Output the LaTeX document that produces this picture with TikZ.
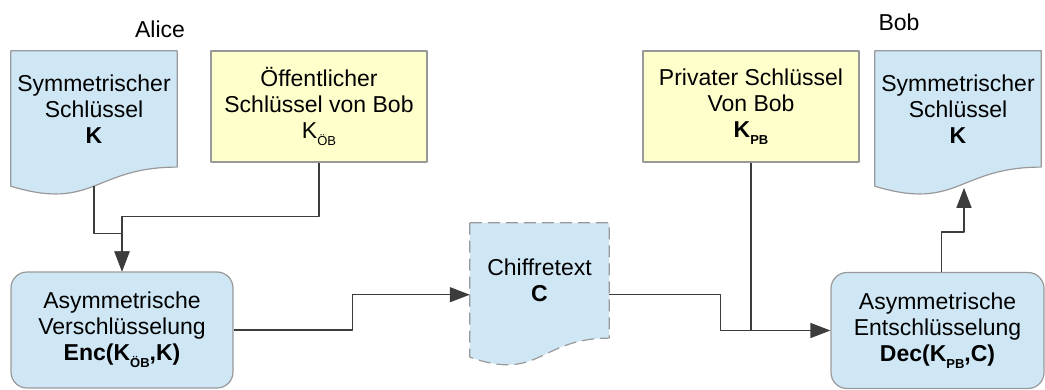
\documentclass[tikz,border=0pt]{standalone}
\usepackage{fontspec}
\setmainfont{Liberation Sans}
\usetikzlibrary{positioning,calc,arrows.meta}
\definecolor{docblue}{HTML}{CFE7F5}
\definecolor{keyyellow}{HTML}{FFFFCC}
\definecolor{rahmen}{HTML}{999999}
\definecolor{linie}{HTML}{3C3C3C}
% Index unter dem Schluessel
\newcommand\subk[1]{\raisebox{-7pt}{\fontsize{13}{13}\selectfont #1}}
% Dokument-Form um einen leeren Knoten
\newcommand\docform[2][]{\path[#1] (#2.north west) -- (#2.north east) -- ($(#2.south east)!0.198!(#2.north east)$) .. controls ($(#2.south)!0.198!(#2.north)$) and ($(#2.south)!-0.1075!(#2.north)$) .. ($(#2.south west)!0.066!(#2.north west)$) -- cycle;}
\begin{document}
\begin{tikzpicture}[x=1pt, y=-1pt, font=\fontsize{23}{26}\selectfont, line join=round, >={Triangle[length=20pt,width=15pt]},
	keybox/.style={draw=rahmen, fill=keyyellow, line width=1.2pt, minimum width=216pt, minimum height=111pt, align=center, inner sep=0pt},
	procbox/.style={draw=rahmen, fill=docblue, line width=1.2pt, rounded corners=16pt, minimum height=116pt, align=center, inner sep=0pt},
	docbox/.style={minimum width=166pt, minimum height=144.6pt, inner sep=0pt},
	doctext/.style={align=center, inner sep=0pt},
	conn/.style={draw=linie, line width=1.4pt}]
				\useasboundingbox (0,0) rectangle (1045,389);
				\node (alice) at (160,29) {Alice};
				\node (bob) at (899,22) {Bob};
				% Alice
				\node[docbox] (symA) at (94,123.3) {};
				\docform[draw=rahmen, fill=docblue, line width=1.2pt]{symA}
				\node[doctext] (symA-t) at ([yshift=14.5pt]symA.center) {Symmetrischer\\Schlüssel\\\textbf{K}};
				\node[keybox] (pubB) at (319,106.5) {Öffentlicher\\Schlüssel von Bob\\K\subk{ÖB}};
				\node[procbox, minimum width=222pt] (enc) at (122,330) {Asymmetrische\\Verschlüsselung\\\textbf{Enc(K\subk{ÖB},K)}};
				% Chiffretext
				\node[docbox, minimum width=139pt, minimum height=143.4pt] (ciph) at (539.5,294.7) {};
				\docform[draw=rahmen, fill=docblue, line width=1.2pt, dash pattern=on 12pt off 6pt]{ciph}
				\node[doctext] (ciph-t) at ([yshift=14pt]ciph.center) {Chiffretext\\\textbf{C}};
				% Bob
				\node[keybox] (privB) at (751,106.5) {Privater Schlüssel\\Von Bob\\\textbf{K\subk{PB}}};
				\node[docbox] (symB) at (958,123.3) {};
				\docform[draw=rahmen, fill=docblue, line width=1.2pt]{symB}
				\node[doctext] (symB-t) at ([yshift=14.5pt]symB.center) {Symmetrischer\\Schlüssel\\\textbf{K}};
				\node[procbox, minimum width=213pt] (dec) at (937.5,330.5) {Asymmetrische\\Entschlüsselung\\\textbf{Dec(K\subk{PB},C)}};
				% Verbindungen
				\coordinate (symA-out) at ($(symA.south)!0.066!(symA.north)$);
				\coordinate (symB-in) at ($(symB.south)+(6pt,8pt)$);
				\draw[conn,->] (symA-out) |- ([yshift=38pt]enc.north) -- (enc.north);
				\draw[conn,->] (pubB.south) |- ([yshift=55pt]enc.north) -- (enc.north);
				\draw[conn,->] (enc.east) -- ++(119,0) |- (ciph.west);
				\draw[conn,->] (ciph.east) -- ++(111,0) |- (dec.west);
				\draw[conn] (privB.south) -- (privB.south |- dec.west);
				\draw[conn,->] ([xshift=4pt]dec.north) -- ++(0,-40) -| (symB-in);
	\end{tikzpicture}
\end{document}
